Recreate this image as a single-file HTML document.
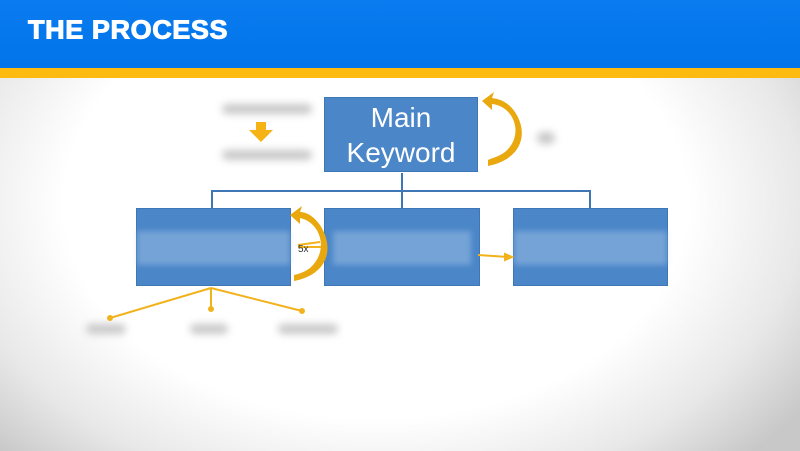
<!DOCTYPE html>
<html><head><style>
body{margin:0;width:800px;height:451px;overflow:hidden;position:relative;font-family:"Liberation Sans",sans-serif;
background:radial-gradient(ellipse 65% 80% at 47% 45%,#fff 60%,#e8e8e8 82%,#c8c8c8 100%);}
.hdr{position:absolute;left:0;top:0;width:800px;height:68px;background:linear-gradient(#0a7cf0,#0274ea);}
.yl{position:absolute;left:0;top:68px;width:800px;height:10px;background:#fdbb10;}
.t{position:absolute;left:28px;top:15px;color:#fff;font-weight:bold;font-size:27px;letter-spacing:0.6px;-webkit-text-stroke:1px #fff;transform:scaleY(0.95);}
.box{position:absolute;background:#4a86c8;border:1px solid #3f76b6;}
.band{position:absolute;left:0;right:0;top:22px;height:34px;background:rgba(170,200,232,.45);filter:blur(3px);}
.g{position:absolute;background:#c8c8c8;filter:blur(4px);border-radius:6px;}
</style></head><body>
<div class="hdr"><div class="t">THE PROCESS</div></div>
<div class="yl"></div>
<div class="box" style="left:324px;top:97px;width:154px;height:75px;color:#fff;font-size:28px;text-align:center;line-height:35px;padding-top:2px;box-sizing:border-box">Main<br>Keyword</div>
<div class="box" style="left:136px;top:208px;width:153px;height:76px"><div class="band"></div></div>
<div class="box" style="left:324px;top:208px;width:154px;height:76px"><div class="band" style="left:8px;right:8px"></div></div>
<div class="box" style="left:513px;top:208px;width:153px;height:76px"><div class="band"></div></div>
<div class="g" style="left:222px;top:104px;width:90px;height:10px"></div>
<div class="g" style="left:222px;top:150px;width:90px;height:10px"></div>
<div class="g" style="left:537px;top:132px;width:18px;height:12px"></div>
<div class="g" style="left:86px;top:324px;width:40px;height:10px"></div>
<div class="g" style="left:190px;top:324px;width:38px;height:10px"></div>
<div class="g" style="left:278px;top:324px;width:60px;height:10px"></div>
<svg width="800" height="451" style="position:absolute;left:0;top:0">
<g stroke="#3f76b6" stroke-width="2" fill="none">
<path d="M402 173V208M212 208V191H590V208"/>
</g>
<g stroke="#f2b21c" stroke-width="2" fill="#f2b21c">
<path d="M211 288L110 318M211 288V309M211 288L302 311" fill="none"/>
<circle cx="110" cy="318" r="2"/><circle cx="302" cy="311" r="2"/><circle cx="211" cy="309" r="2"/>
<path d="M478 255L508 257" fill="none"/><path d="M505 254L512 257L505 260Z"/>
<path d="M298 245L320 242M298 247L322 247" fill="none"/>
</g>
<path d="M488 166C520 160 530 135 515 112C508 102 500 99 492 98L494 92L482 101L492 110L492 104C514 106 525 135 505 152C498 157 492 158 488 160Z" fill="#e9a80e"/>
<path d="M294 281C326 275 336 250 320 225C313 215 305 212 300 212L302 206L290 215L300 224L300 218C320 222 330 250 310 268C303 273 298 274 294 275Z" fill="#e9a80e"/>
<path d="M256 122h10v8h7l-12 12l-12-12h7z" fill="#f5b315"/>
<text x="298" y="252" font-size="10" fill="#333">5x</text>
</svg>
</body></html>
